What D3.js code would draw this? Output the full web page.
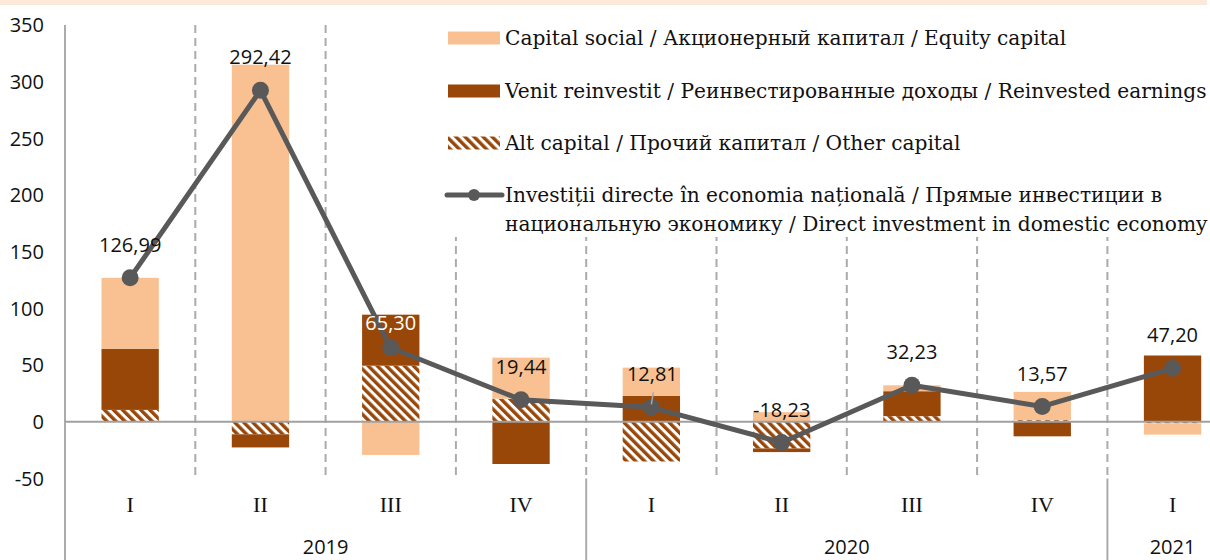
<!DOCTYPE html>
<html lang="ro">
<head>
    <meta charset="UTF-8">
    <script src="https://d3js.org/d3.v7.min.js"></script>
    <title>Investiții directe</title>
    <style>
        body { margin: 0; background: #fff; }
        svg { display: block; }
    </style>
</head>
<body>
    <div id="chart"></div>

    <script type="text/javascript">
        // values (mil. USD)
        const quarters = ["I", "II", "III", "IV", "I", "II", "III", "IV", "I"];
        const yearLabels = ["2019", "2020", "2021"];
        const quartersPerYear = [4, 4, 1];
        const equity = [62.5, 315, -29.2, 36.3, 24.8, 8.5, 5.2, 24.9, -10];
        const reinvested = [54, -11.6, 45, -37.2, 23, -3.2, 22, -12.8, 58.5];
        const other = [10.5, -11, 49.5, 20.3, -35, -23.5, 5, 1.5, -1.3];
        const total = [126.99, 292.42, 65.30, 19.44, 12.81, -18.23, 32.23, 13.57, 47.20];
        const yTicks = [-50, 0, 50, 100, 150, 200, 250, 300, 350];
        const legendLabels = [
            "Capital social / Акционерный капитал / Equity capital",
            "Venit reinvestit / Реинвестированные доходы / Reinvested earnings",
            "Alt capital / Прочий капитал / Other capital",
            ["Investiții directe în economia națională / Прямые инвестиции в",
             "национальную экономику / Direct investment in domestic economy"]
        ];

        const width = 1210;
        const height = 560;
        const beige = "#F9C192";
        const brown = "#994709";
        const lineColor = "#595959";
        const gridColor = "#ABABAB";
        const numFont = "'Open Sans', 'Liberation Sans', sans-serif";
        const serifFont = "'DejaVu Serif', 'Liberation Serif', serif";

        const svg = d3.select("#chart")
            .append("svg")
            .attr("width", width)
            .attr("height", height);

        const defs = svg.append("defs");
        const pat = defs.append("pattern")
            .attr("id", "hatch")
            .attr("patternUnits", "userSpaceOnUse")
            .attr("width", 6.4)
            .attr("height", 6.4)
            .attr("patternTransform", "rotate(-45)");
        pat.append("rect").attr("width", 6.4).attr("height", 6.4).attr("fill", "#fff");
        pat.append("rect").attr("width", 3.4).attr("height", 6.4).attr("fill", brown);

        // top band
        svg.append("rect")
            .attr("x", 0).attr("y", 0)
            .attr("width", 1207).attr("height", 5)
            .attr("fill", "#FCE9DA");

        const x = d3.scaleBand()
            .domain(d3.range(quarters.length))
            .range([65, 65 + 130.3 * quarters.length])
            .padding(0);

        const y = d3.scaleLinear()
            .domain([-50, 350])
            .range([478.5, 25]);

        const plotTop = y(350);
        const plotBottom = y(-50);

        // dashed category separators
        svg.selectAll(".sep")
            .data(d3.range(1, quarters.length))
            .enter()
            .append("line")
            .attr("class", "sep")
            .attr("x1", d => x(d)).attr("x2", d => x(d))
            .attr("y1", plotTop).attr("y2", plotBottom)
            .attr("stroke", gridColor)
            .attr("stroke-width", 2)
            .attr("stroke-dasharray", "8,5");

        // solid year separators below the plot
        const yearStarts = [0];
        quartersPerYear.forEach((n, i) => yearStarts.push(yearStarts[i] + n));
        svg.selectAll(".ysep")
            .data(yearStarts.slice(1, -1))
            .enter()
            .append("line")
            .attr("x1", d => x(d)).attr("x2", d => x(d))
            .attr("y1", plotBottom).attr("y2", height)
            .attr("stroke", gridColor)
            .attr("stroke-width", 2);

        // left axis line
        svg.append("line")
            .attr("x1", 65).attr("x2", 65)
            .attr("y1", plotTop).attr("y2", height)
            .attr("stroke", gridColor)
            .attr("stroke-width", 2);

        // y tick labels
        svg.selectAll(".ytick")
            .data(yTicks)
            .enter()
            .append("text")
            .attr("x", 44)
            .attr("y", d => y(d))
            .attr("dy", "0.36em")
            .attr("text-anchor", "end")
            .style("font-family", numFont)
            .style("font-size", "20px")
            .style("fill", "#111")
            .text(d => d);

        // stacked bars
        const rows = quarters.map((q, i) => ({
            i: i, other: other[i], reinvested: reinvested[i], equity: equity[i]
        }));
        const keys = ["other", "reinvested", "equity"];
        const fills = { other: "url(#hatch)", reinvested: brown, equity: beige };
        const series = d3.stack()
            .keys(keys)
            .offset(d3.stackOffsetDiverging)(rows);

        const barW = x.bandwidth() * 0.44;
        svg.selectAll(".series")
            .data(series)
            .enter()
            .append("g")
            .attr("fill", d => fills[d.key])
            .selectAll("rect")
            .data(d => d)
            .enter()
            .append("rect")
            .attr("x", d => x(d.data.i) + (x.bandwidth() - barW) / 2)
            .attr("width", barW)
            .attr("y", d => y(Math.max(d[0], d[1])))
            .attr("height", d => Math.abs(y(d[0]) - y(d[1])));

        // zero line
        svg.append("line")
            .attr("x1", 65).attr("x2", width)
            .attr("y1", y(0)).attr("y2", y(0))
            .attr("stroke", "#A0A0A0")
            .attr("stroke-width", 2);

        // total line
        const cx = i => x(i) + x.bandwidth() / 2;
        const line = d3.line()
            .x((d, i) => cx(i))
            .y(d => y(d));

        svg.append("path")
            .datum(total)
            .attr("d", line)
            .attr("fill", "none")
            .attr("stroke", lineColor)
            .attr("stroke-width", 5)
            .attr("stroke-linejoin", "round");

        svg.selectAll(".dot")
            .data(total)
            .enter()
            .append("circle")
            .attr("cx", (d, i) => cx(i))
            .attr("cy", d => y(d))
            .attr("r", 8.5)
            .attr("fill", lineColor);

        // small leader for 12,81
        svg.append("line")
            .attr("x1", cx(4) + 2).attr("x2", cx(4))
            .attr("y1", y(total[4]) - 15).attr("y2", y(total[4]) - 3)
            .attr("stroke", "#A6A6A6")
            .attr("stroke-width", 1.5);

        // value labels
        const fmt = v => d3.format(".2f")(v).replace(".", ",").replace("\u2212", "-");
        svg.selectAll(".vlabel")
            .data(total)
            .enter()
            .append("text")
            .attr("x", (d, i) => cx(i) + (i === 4 ? 1 : 0))
            .attr("y", (d, i) => y(d) - (i === 2 ? 25 : 33))
            .attr("dy", "0.36em")
            .attr("text-anchor", "middle")
            .style("font-family", numFont)
            .style("font-size", "20px")
            .style("fill", (d, i) => i === 2 ? "#fff" : "#111")
            .text(fmt);

        // category labels
        svg.selectAll(".qlabel")
            .data(quarters)
            .enter()
            .append("text")
            .attr("x", (d, i) => cx(i))
            .attr("y", 512)
            .attr("text-anchor", "middle")
            .style("font-family", "'Liberation Serif', serif")
            .style("font-size", "22px")
            .style("fill", "#111")
            .text(d => d);

        svg.selectAll(".yearlabel")
            .data(yearLabels)
            .enter()
            .append("text")
            .attr("x", (d, i) => (x(yearStarts[i]) + x(yearStarts[i + 1] - 1) + x.bandwidth()) / 2)
            .attr("y", 554)
            .attr("text-anchor", "middle")
            .style("font-family", numFont)
            .style("font-size", "20px")
            .style("fill", "#111")
            .text(d => d);

        // legend
        const legend = svg.append("g");
        legend.append("rect")
            .attr("x", 440).attr("y", 20)
            .attr("width", width - 440).attr("height", 217)
            .attr("fill", "#fff");

        const rowY = [38, 91, 143, 195];
        const swatchFills = [beige, brown, "url(#hatch)"];
        swatchFills.forEach((f, i) => {
            legend.append("rect")
                .attr("x", 448).attr("y", rowY[i] - 6.5)
                .attr("width", 52).attr("height", 13)
                .attr("fill", f);
        });
        legend.append("line")
            .attr("x1", 447).attr("x2", 502)
            .attr("y1", rowY[3]).attr("y2", rowY[3])
            .attr("stroke", lineColor)
            .attr("stroke-width", 5)
            .attr("stroke-linecap", "round");
        legend.append("circle")
            .attr("cx", 474).attr("cy", rowY[3])
            .attr("r", 6)
            .attr("fill", lineColor);

        const legendTexts = [];
        legendLabels.forEach((lab, i) => {
            const lines = Array.isArray(lab) ? lab : [lab];
            lines.forEach((t, j) => {
                const el = legend.append("text")
                    .attr("x", 505)
                    .attr("y", rowY[i] + j * 29)
                    .attr("dy", "0.35em")
                    .style("font-family", serifFont)
                    .style("font-size", "20px")
                    .style("fill", "#111")
                    .text(t);
                legendTexts.push(el);
            });
        });
        // fit legend font so the longest line ends near the right edge
        const longest = legendTexts[1].node().getComputedTextLength();
        const fs = 20 * 702 / longest;
        legendTexts.forEach(el => el.style("font-size", fs + "px"));
    </script>
</body>
</html>
